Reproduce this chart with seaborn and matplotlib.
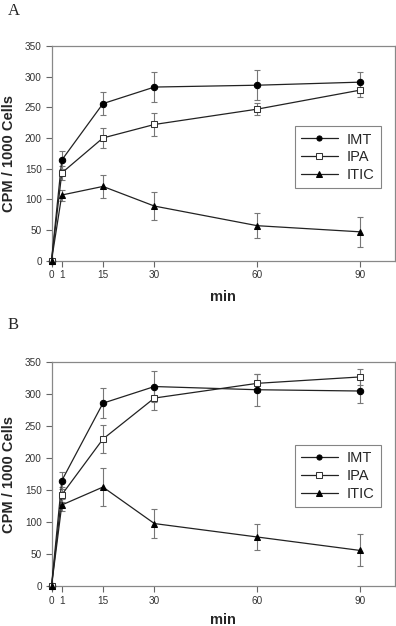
import matplotlib
matplotlib.use("Agg")
import matplotlib.pyplot as plt
import seaborn as sns
import pandas as pd
import numpy as np

# ---- data ----
time_labels = ["0", "1", "15", "30", "60", "90"]
# horizontal positions at which the time points are printed in the figure
time_pos = [0, 3, 15, 30, 60, 90]
series_names = ["IMT", "IPA", "ITIC"]

A_IMT = [0, 164, 256, 283, 286, 291]
A_IPA = [0, 143, 200, 222, 247, 278]
A_ITIC = [0, 107, 121, 89, 57, 47]
A_IMT_err = [0, 14, 19, 24, 24, 17]
A_IPA_err = [0, 12, 16, 19, 10, 11]
A_ITIC_err = [0, 9, 19, 23, 20, 24]

B_IMT = [0, 165, 286, 312, 307, 305]
B_IPA = [0, 143, 230, 294, 317, 327]
B_ITIC = [0, 127, 155, 98, 77, 56]
B_IMT_err = [0, 13, 23, 24, 25, 18]
B_IPA_err = [0, 12, 22, 18, 14, 12]
B_ITIC_err = [0, 9, 29, 22, 20, 25]

y_ticks = [0, 50, 100, 150, 200, 250, 300, 350]

sns.set_style("ticks")
plt.rcParams["font.family"] = ["Liberation Sans", "DejaVu Sans"]

styles = {
    "IMT": dict(marker="o", markerfacecolor="black", markeredgecolor="black", markersize=4.6),
    "IPA": dict(marker="s", markerfacecolor="white", markeredgecolor="#333333", markersize=4.6),
    "ITIC": dict(marker="^", markerfacecolor="black", markeredgecolor="black", markersize=4.8),
}

fig = plt.figure(figsize=(3.96, 6.26), dpi=100)
axA = fig.add_axes([51.5 / 396, 0.5836, 343 / 396, 0.343])
axB = fig.add_axes([51.5 / 396, 0.0634, 343 / 396, 0.358])

panels = [
    (axA, [A_IMT, A_IPA, A_ITIC], [A_IMT_err, A_IPA_err, A_ITIC_err], 0.627, -0.136),
    (axB, [B_IMT, B_IPA, B_ITIC], [B_IMT_err, B_IPA_err, B_ITIC_err], 0.631, -0.118),
]

for ax, vals, errs, legtop, xlab_y in panels:
    for name, v, e in zip(series_names, vals, errs):
        ax.errorbar(time_pos, v, yerr=e, fmt="none", ecolor="#777777",
                    elinewidth=0.8, capsize=2.2, capthick=0.8, zorder=2, clip_on=False)
    for name, v in zip(series_names, vals):
        df = pd.DataFrame({"t": time_pos, "v": v})
        sns.lineplot(data=df, x="t", y="v", ax=ax, color="#222222", linewidth=0.9,
                     label=name, zorder=3, clip_on=False, **styles[name])
    ax.set_xlim(0, 100)
    ax.set_ylim(0, 350)
    ax.set_xticks(time_pos)
    ax.set_xticklabels(time_labels)
    ax.set_yticks(y_ticks)
    ax.tick_params(axis="both", labelsize=7.2, colors="#666666", labelcolor="#333333",
                   length=4, width=0.8, pad=3)
    for s in ax.spines.values():
        s.set_visible(True)
        s.set_color("#888888")
        s.set_linewidth(0.9)
    ax.set_xlabel("min", fontsize=10.5, fontweight="bold")
    ax.set_ylabel("CPM / 1000 Cells", fontsize=10.5, fontweight="bold", va="center")
    ax.xaxis.set_label_coords(0.5, xlab_y)
    ax.yaxis.set_label_coords(-0.124, 0.5)
    leg = ax.legend(loc="upper right", bbox_to_anchor=(0.96, legtop), fontsize=10.5,
                    frameon=True, fancybox=False, edgecolor="#666666",
                    handlelength=2.5, handletextpad=0.6, labelspacing=0.25,
                    borderpad=0.45, borderaxespad=0, markerscale=0.8)
    leg.get_frame().set_linewidth(0.8)

fig.text(8 / 396, 1 - 11 / 626, "A", family=["Liberation Serif", "DejaVu Serif"],
         fontsize=12, va="center", ha="left")
fig.text(8 / 396, 1 - 325 / 626, "B", family=["Liberation Serif", "DejaVu Serif"],
         fontsize=12, va="center", ha="left")

fig.savefig("out.png", dpi=100)
